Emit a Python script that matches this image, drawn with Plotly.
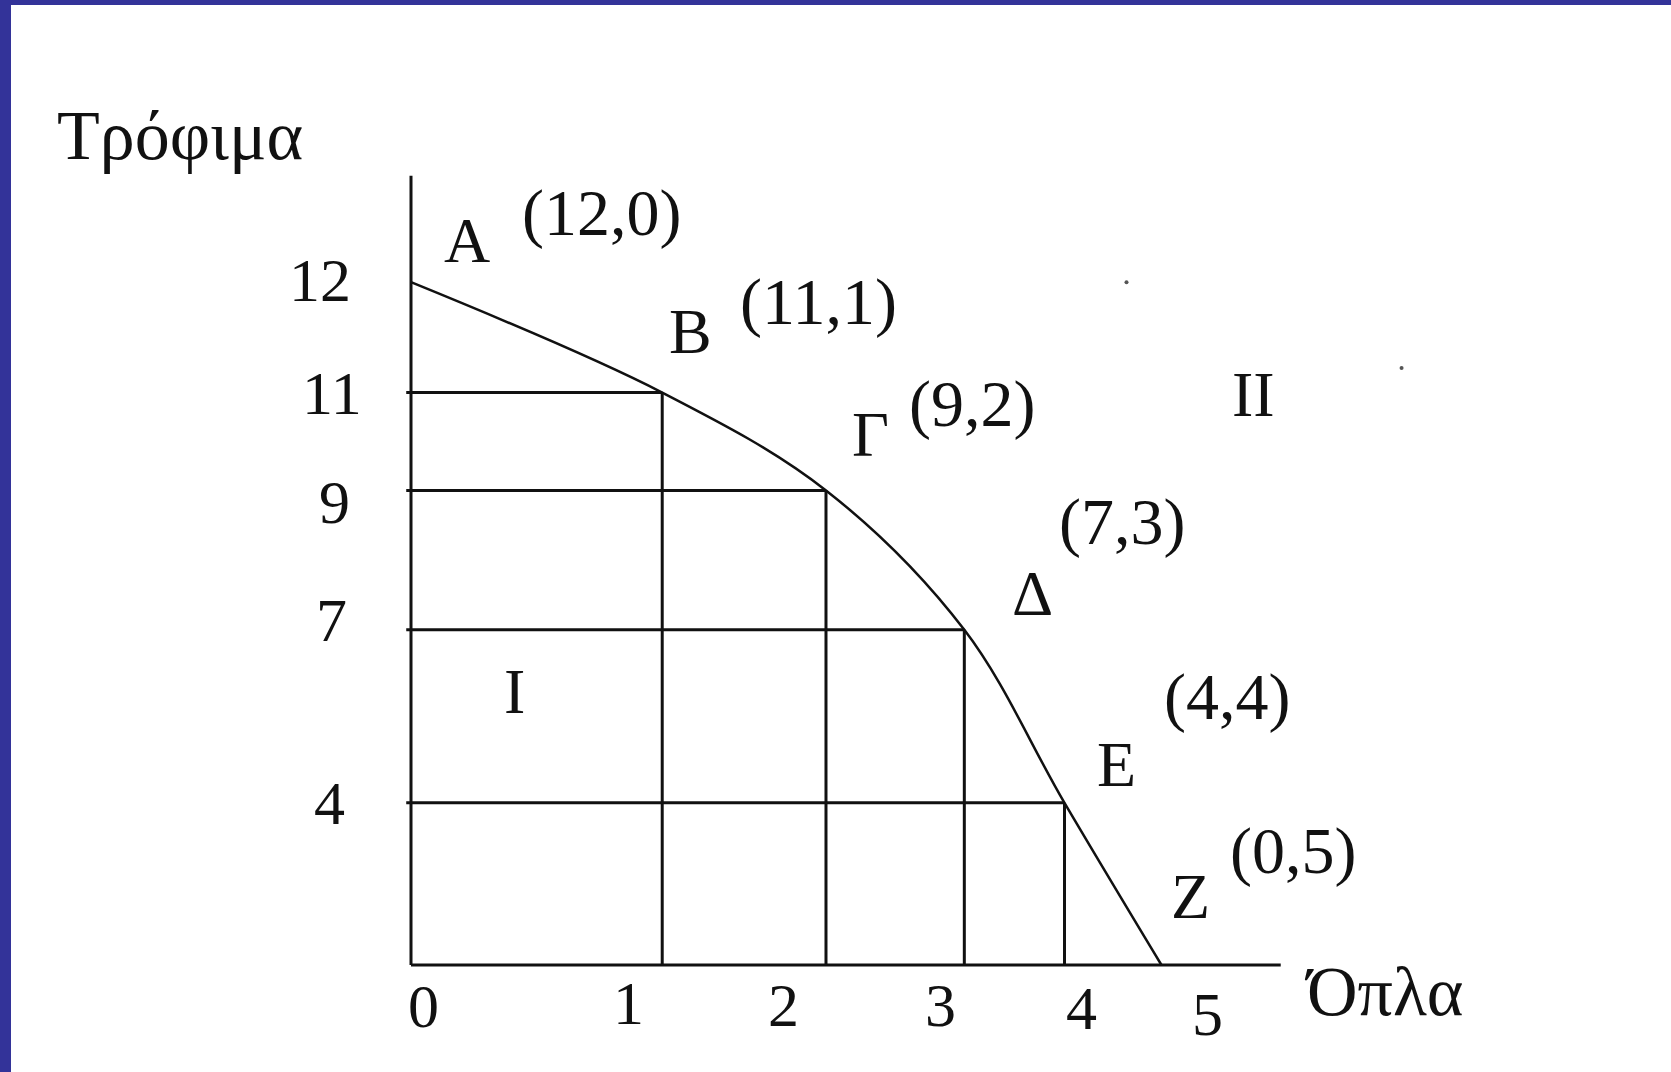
import plotly.graph_objects as go

# production possibilities: point name, food, weapons
points = ['A', 'B', 'Γ', 'Δ', 'E', 'Z']
food = [12, 11, 9, 7, 4, 0]
weapons = [0, 1, 2, 3, 4, 5]

# where the hand drawing places each point (sketch is not to scale)
sketch_x = [0, 1.58, 2.61, 3.48, 4.11, 4.72]
sketch_y = [12, 10.06, 8.34, 5.89, 2.85, 0]

# axis tick labels as they sit on the sketch
xtick_labels = ['0', '1', '2', '3', '4', '5']
xtick_pos = [0.08, 1.37, 2.34, 3.33, 4.22, 5.01]
xtick_y = [-0.72, -0.66, -0.70, -0.70, -0.76, -0.86]
ytick_labels = ['12', '11', '9', '7', '4']
ytick_pos = [12.04, 10.05, 8.14, 6.06, 2.85]
ytick_x = [-0.57, -0.50, -0.48, -0.50, -0.51]

# stray specks in the scan
specks_x = [4.50, 6.23]
specks_y = [12.0, 10.49]

# pixel calibration of the sketch
W, H = 1671, 1072
X0, XU = 411, 159.0
Y0, YU = 965, 56.9

FONT = 'Liberation Serif, Times New Roman, serif'
INK = '#111111'

fig = go.Figure()

# frontier
fig.add_trace(go.Scatter(x=sketch_x, y=sketch_y, mode='lines',
                         line=dict(color=INK, width=2.5, shape='spline', smoothing=1.0),
                         hoverinfo='skip'))
fig.add_trace(go.Scatter(x=specks_x, y=specks_y, mode='markers',
                         marker=dict(color='#555', size=4), hoverinfo='skip'))

shapes = []
line = dict(color=INK, width=3)
# axes
shapes.append(dict(type='line', xref='x', yref='y', x0=0, y0=0, x1=0, y1=13.87, line=line))
shapes.append(dict(type='line', xref='x', yref='y', x0=0, y0=0, x1=5.47, y1=0, line=line))
# grid back to the axes from B..E
for xs, ys in zip(sketch_x[1:-1], sketch_y[1:-1]):
    shapes.append(dict(type='line', xref='x', yref='y', x0=-0.03, y0=ys, x1=xs, y1=ys, line=line))
    shapes.append(dict(type='line', xref='x', yref='y', x0=xs, y0=0, x1=xs, y1=ys, line=line))
# slide frame
shapes.append(dict(type='rect', xref='paper', yref='paper', x0=0, x1=11 / W, y0=0, y1=1,
                   fillcolor='#333399', line=dict(width=0), layer='above'))
shapes.append(dict(type='rect', xref='paper', yref='paper', x0=0, x1=1, y0=1 - 5 / H, y1=1,
                   fillcolor='#333399', line=dict(width=0), layer='above'))

ann = []
def label(x, y, text, size=62):
    ann.append(dict(x=x, y=y, xref='x', yref='y', text=text, showarrow=False,
                    xanchor='center', yanchor='middle',
                    font=dict(family=FONT, size=size, color=INK)))

# point names and (food, weapons) pairs, offset from each point
name_off = [(0.35, 0.73), (0.18, 1.07), (0.28, 0.99), (0.43, 0.64), (0.33, 0.68), (0.18, 1.2)]
pair_off = [(1.20, 1.22), (0.98, 1.59), (0.92, 1.52), (0.99, 1.89), (1.02, 1.86), (0.83, 2.0)]
for i, name in enumerate(points):
    label(sketch_x[i] + name_off[i][0], sketch_y[i] + name_off[i][1], name, 64)
    label(sketch_x[i] + pair_off[i][0], sketch_y[i] + pair_off[i][1],
          f'({food[i]},{weapons[i]})', 66)

for t, xp, yp in zip(xtick_labels, xtick_pos, xtick_y):
    label(xp, yp, t)
for t, yp, xp in zip(ytick_labels, ytick_pos, ytick_x):
    label(xp, yp, t)

label(-1.45, 14.57, 'Τρόφιμα', 70)
label(6.12, -0.46, 'Όπλα', 70)
label(0.65, 4.80, 'I', 64)
label(5.30, 10.03, 'II', 64)

fig.update_layout(
    width=W, height=H,
    margin=dict(l=0, r=0, t=0, b=0),
    paper_bgcolor='white', plot_bgcolor='white',
    showlegend=False,
    xaxis=dict(visible=False, range=[-X0 / XU, (W - X0) / XU], fixedrange=True),
    yaxis=dict(visible=False, range=[(Y0 - H) / YU, Y0 / YU], fixedrange=True),
    shapes=shapes,
    annotations=ann,
)

fig.write_html('out.html', config={'displayModeBar': False},
               post_script="document.body.style.margin='0';")
